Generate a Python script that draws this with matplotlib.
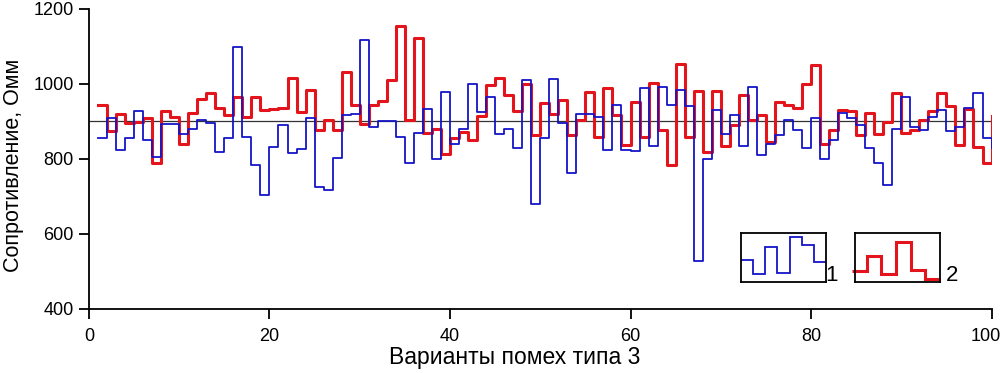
import matplotlib
matplotlib.use("Agg")
import matplotlib.pyplot as plt
import matplotlib.transforms as mtransforms
import numpy as np

plt.rcParams['font.family'] = ['Liberation Sans Narrow', 'Liberation Sans', 'DejaVu Sans']

# variant numbers 1..100
variants = np.arange(1, 101)

# series 1 (blue), resistance, Ohm
series_1 = [855, 910, 825, 857, 928, 850, 804, 892, 893, 866,
            879, 903, 895, 819, 855, 1099, 859, 784, 705, 831,
            890, 815, 826, 908, 726, 717, 803, 917, 921, 1117,
            886, 902, 902, 859, 790, 868, 932, 801, 979, 841,
            880, 1001, 926, 966, 866, 880, 828, 1010, 681, 855,
            1012, 895, 763, 920, 920, 911, 825, 944, 825, 822,
            988, 834, 991, 944, 984, 941, 528, 799, 930, 866,
            917, 834, 992, 810, 841, 864, 905, 877, 828, 908,
            799, 850, 923, 908, 890, 828, 790, 730, 880, 966,
            886, 877, 911, 930, 875, 884, 935, 977, 855, 828]

# series 2 (red)
series_2 = [944, 875, 920, 895, 899, 908, 790, 929, 911, 841,
            923, 961, 975, 935, 917, 966, 911, 966, 930, 932,
            936, 1015, 926, 984, 877, 904, 877, 1032, 944, 892,
            944, 955, 1010, 1155, 904, 1122, 868, 881, 813, 855,
            872, 850, 914, 997, 1015, 970, 928, 1001, 864, 948,
            920, 957, 864, 905, 979, 859, 988, 917, 837, 952,
            859, 1003, 877, 783, 1053, 859, 982, 819, 982, 834,
            890, 970, 904, 917, 846, 952, 944, 935, 1000, 1050,
            840, 877, 930, 928, 864, 923, 866, 899, 975, 868,
            877, 905, 928, 977, 941, 837, 932, 831, 788, 914]

ref_level = 900

# little step pictures used as legend keys
key_1 = [0.46, 0.16, 0.72, 0.19, 0.92, 0.75, 0.40]
key_2 = [0.23, 0.53, 0.17, 0.82, 0.25, 0.06]
key_labels = ['1', '2']

blue = '#1414c8'
red = '#e4141c'

fig = plt.figure(figsize=(10.04, 3.73), dpi=100)
ax = fig.add_axes([0.0886, 0.172, 0.899, 0.804])

ax.axhline(ref_level, color='#333333', lw=0.9, zorder=1)
ax.step(variants, series_2, where='post', color=red, lw=2.2, zorder=2)
ax.step(variants, series_1, where='post', color=blue, lw=1.3, zorder=3)

ax.set_xlim(0, 100)
ax.set_ylim(400, 1200)
ax.set_xticks(range(0, 101, 20))
ax.set_yticks(range(400, 1201, 200))
for s in ['top', 'right']:
    ax.spines[s].set_visible(False)
for s in ['left', 'bottom']:
    ax.spines[s].set_linewidth(1.3)
ax.tick_params(direction='out', length=7, width=1.3, labelsize=13)
ax.tick_params(axis='x', pad=7)
ax.tick_params(axis='y', pad=4)
# nudge the last x tick label so it stays inside the picture
last = ax.get_xticklabels()[-1]
last.set_transform(last.get_transform() +
                   mtransforms.ScaledTranslation(-4 / 72, 0, fig.dpi_scale_trans))

ax.set_ylabel("Сопротивление, Омм", fontsize=15.5)
ax.yaxis.set_label_coords(-0.072, 0.48)
ax.set_xlabel("Варианты помех типа 3", fontsize=16.5)
ax.xaxis.set_label_coords(0.472, -0.125)

# legend keys
for i, (key, col, lw) in enumerate([(key_1, blue, 1.3), (key_2, red, 2.2)]):
    kax = fig.add_axes([0.738 + i * 0.1136, 0.244, 0.0847, 0.131])
    n = len(key)
    if i == 0:
        edges = np.linspace(0, n, n + 1)
    else:
        edges = np.linspace(-0.2, n, n + 1)
    kax.stairs(key, edges, baseline=None, color=col, lw=lw, clip_on=False)
    kax.set_xlim(0, n)
    kax.set_ylim(0, 1)
    kax.set_xticks([])
    kax.set_yticks([])
    for s in kax.spines.values():
        s.set_linewidth(1.3)
    fig.text(0.8285 + i * 0.1195, 0.262, key_labels[i], fontsize=16,
             ha='center', va='center')

fig.savefig('out.png', dpi=100)
